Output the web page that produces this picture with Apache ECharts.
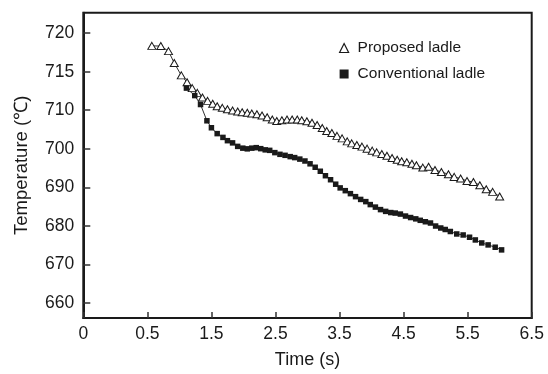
<!DOCTYPE html>
<html>
<head>
<meta charset="utf-8">
<script src="https://cdn.jsdelivr.net/npm/echarts@6/dist/echarts.min.js"></script>
<style>
html,body{margin:0;padding:0;background:#fff;}
#chart{width:548px;height:374px;}
</style>
</head>
<body>
<div id="chart"></div>
<script>
// Tick labels (axes are drawn with evenly spaced ticks carrying these labels)
const timeLabels = ['0', '0.5', '1.5', '2.5', '3.5', '4.5', '5.5', '6.5'];
const tempLabels = ['660', '670', '680', '690', '700', '710', '715', '720'];

const seriesNames = ['Proposed ladle', 'Conventional ladle'];

// Proposed ladle
const proposedTime = [0.57,0.71,0.83,0.92,1.03,1.12,1.20,1.28,1.36,1.44,1.52,1.59,1.67,1.75,1.83,1.91,1.98,2.06,2.13,2.21,2.29,2.37,2.45,2.52,2.60,2.68,2.76,2.84,2.91,2.99,3.07,3.15,3.23,3.30,3.38,3.46,3.54,3.62,3.69,3.77,3.85,3.93,4.01,4.08,4.16,4.24,4.32,4.40,4.47,4.55,4.63,4.70,4.80,4.89,4.99,5.09,5.20,5.29,5.39,5.49,5.59,5.69,5.79,5.89,6.00];
const proposedTemp = [718.35,718.32,717.67,716.12,714.52,713.62,712.87,712.25,711.64,711.21,710.83,710.52,710.31,710.13,709.92,709.66,709.48,709.33,709.15,708.94,708.63,708.17,707.60,707.21,707.42,707.60,707.60,707.60,707.42,707.16,706.75,706.18,705.40,704.63,704.11,703.34,702.69,701.92,701.40,700.96,700.55,700.03,699.51,699.07,698.64,698.17,697.60,697.14,696.75,696.49,696.10,695.72,695.12,695.33,694.50,693.99,693.39,692.70,692.28,691.66,691.40,690.55,689.52,688.82,687.63];

// Conventional ladle
const conventionalTime = [1.11,1.24,1.33,1.43,1.50,1.59,1.68,1.75,1.83,1.91,1.99,2.06,2.13,2.20,2.27,2.34,2.41,2.49,2.57,2.65,2.73,2.80,2.88,2.96,3.04,3.12,3.20,3.28,3.36,3.44,3.51,3.59,3.67,3.75,3.83,3.91,3.98,4.06,4.14,4.22,4.30,4.37,4.45,4.53,4.61,4.69,4.76,4.84,4.92,5.00,5.08,5.15,5.23,5.33,5.43,5.53,5.62,5.72,5.82,5.93,6.03];
const conventionalTemp = [712.87,711.90,710.74,707.26,705.45,703.93,702.95,702.10,701.53,700.62,700.16,699.98,700.16,700.29,700.03,699.72,699.59,699.00,698.56,698.30,697.96,697.71,697.32,696.83,696.10,695.20,694.17,693.01,691.97,690.81,689.85,689.13,688.36,687.58,686.86,686.29,685.52,684.87,684.22,683.76,683.45,683.32,683.06,682.55,682.16,681.82,681.44,681.07,680.74,679.96,679.45,679.06,678.54,677.90,677.64,677.05,676.35,675.57,675.06,674.46,673.77];

// Axis position helpers for the figure's broken scales
// x: 0 -> slot 0, 0.5 -> slot 1, then 1 s per slot
function xSlot(t) { return t + 0.5; }
// y: 10 degC per slot below 710, 5 degC per slot above 710
function ySlot(T) { return T <= 710 ? (T - 660) / 10 : 5 + (T - 710) / 5; }

const slots = [0, 1, 2, 3, 4, 5, 6, 7];
const proposedData = proposedTime.map((t, i) => [xSlot(t), ySlot(proposedTemp[i])]);
const conventionalData = conventionalTime.map((t, i) => [xSlot(t), ySlot(conventionalTemp[i])]);

const FONT = 'Liberation Sans, Arial, Helvetica, sans-serif';
const INK = '#1a1a1a';

const chart = echarts.init(document.getElementById('chart'), null, {renderer: 'canvas'});
chart.setOption({
  animation: false,
  backgroundColor: '#fff',
  grid: {
    left: 83.3, right: 16.3, top: 12.7, bottom: 54.5,
    show: true, borderColor: INK, borderWidth: 2, backgroundColor: 'transparent'
  },
  legend: {
    orient: 'vertical',
    left: 334, top: 35,
    itemGap: 10,
    itemWidth: 9, itemHeight: 9,
    textStyle: {fontFamily: FONT, fontSize: 15.5, color: INK, padding: [0, 0, 0, 4]},
    data: [
      {name: seriesNames[0], icon: 'triangle', itemStyle: {color: '#fff', borderColor: INK, borderWidth: 1.2}},
      {name: seriesNames[1], icon: 'rect', itemStyle: {color: INK}}
    ]
  },
  xAxis: {
    type: 'value', min: 0, max: 7, interval: 1,
    name: 'Time (s)', nameLocation: 'middle', nameGap: 33,
    nameTextStyle: {fontFamily: FONT, fontSize: 18, color: INK},
    axisLine: {show: true, onZero: false, lineStyle: {color: INK, width: 2}},
    axisTick: {show: true, inside: true, length: 6, lineStyle: {color: '#333', width: 1.5}},
    axisLabel: {
      fontFamily: FONT, fontSize: 17.5, color: INK, margin: 7,
      formatter: v => timeLabels[Math.round(v)]
    },
    splitLine: {show: false}
  },
  yAxis: {
    type: 'value', min: -0.39, max: 7.53,
    name: 'Temperature (℃)', nameLocation: 'middle', nameGap: 52, nameRotate: 90,
    nameTextStyle: {fontFamily: FONT, fontSize: 18.5, color: INK},
    axisLine: {show: true, onZero: false, lineStyle: {color: INK, width: 2}},
    axisTick: {show: true, inside: true, length: 7, customValues: slots, lineStyle: {color: '#333', width: 1.5}},
    axisLabel: {
      fontFamily: FONT, fontSize: 17.5, color: INK, margin: 9,
      customValues: slots,
      formatter: v => tempLabels[Math.round(v)]
    },
    splitLine: {show: false}
  },
  series: [
    {
      name: seriesNames[0], type: 'line', data: proposedData,
      symbol: 'triangle', symbolSize: [8, 7],
      lineStyle: {color: INK, width: 0.9},
      itemStyle: {color: '#fff', borderColor: INK, borderWidth: 1}
    },
    {
      name: seriesNames[1], type: 'line', data: conventionalData,
      symbol: 'rect', symbolSize: 5.5,
      lineStyle: {color: INK, width: 0.9},
      itemStyle: {color: INK, borderWidth: 0}
    }
  ]
});
</script>
</body>
</html>
